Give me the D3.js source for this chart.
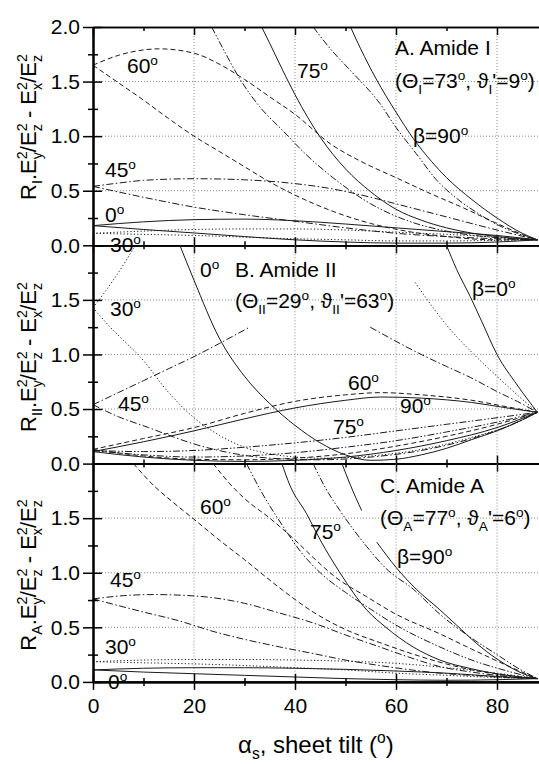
<html>
<body style="margin:0;background:#fff">
<svg id="mainSvg" width="539" height="764"></svg>
<script src="https://d3js.org/d3.v7.min.js"></script>
<script>
// ---- data: [alpha (deg), value] ----
// panel A, Amide I
const A_b0_hi = [[0,0.18],[10,0.215],[20,0.235],[30,0.24],[40,0.225],[50,0.195],[60,0.16],[70,0.125],[80,0.09],[88,0.05]]
const A_b0_lo = [[0,0.18],[10,0.145],[20,0.113],[30,0.08],[40,0.05],[50,0.03],[60,0.02],[70,0.02],[80,0.03],[88,0.05]]
const A_b30_hi = [[0,0.11],[10,0.13],[20,0.145],[30,0.15],[40,0.15],[50,0.14],[60,0.12],[70,0.1],[80,0.075],[88,0.05]]
const A_b30_lo = [[0,0.11],[10,0.1],[20,0.09],[30,0.075],[40,0.06],[50,0.05],[60,0.04],[70,0.04],[80,0.045],[88,0.05]]
const A_b45_hi = [[0,0.54],[5,0.57],[10,0.595],[20,0.61],[30,0.6],[40,0.565],[47,0.52],[55,0.44],[60,0.38],[70,0.26],[80,0.14],[88,0.05]]
const A_b45_lo = [[0,0.54],[10,0.44],[20,0.35],[30,0.28],[40,0.22],[50,0.16],[60,0.11],[70,0.08],[80,0.06],[88,0.05]]
const A_b60_hi = [[0,1.65],[5,1.74],[10,1.79],[13,1.8],[20,1.76],[25,1.66],[30,1.52],[35,1.36],[40,1.2],[47,0.93],[53,0.77],[60,0.62],[67,0.47],[73,0.35],[80,0.2],[85,0.1],[88,0.05]]
const A_b60_lo = [[0,1.65],[5,1.49],[10,1.33],[15,1.16],[20,1.0],[25,0.86],[30,0.72],[35,0.58],[40,0.46],[47,0.32],[55,0.2],[62,0.13],[70,0.08],[80,0.05],[88,0.05]]
const A_b75_1 = [[23.5,2.0],[26,1.78],[29,1.53],[33,1.27],[37.6,1.05],[42,0.84],[47.5,0.62],[55,0.38],[62,0.23],[70,0.13],[80,0.07],[88,0.05]]
const A_b75_2 = [[43.6,2.0],[47,1.8],[51,1.6],[56.8,1.3],[60,1.08],[64,0.84],[68,0.6],[72,0.43],[76,0.3],[80,0.19],[84,0.11],[88,0.05]]
const A_b90_1 = [[33.4,2.0],[35,1.85],[37.6,1.6],[40,1.38],[45,0.99],[50,0.7],[55,0.49],[60,0.33],[65,0.23],[70,0.16],[80,0.08],[88,0.05]]
const A_b90_2 = [[51,2.0],[53,1.8],[56,1.53],[60,1.22],[63.4,0.98],[67,0.77],[70,0.62],[75,0.42],[80,0.25],[85,0.11],[88,0.05]]
// panel B, Amide II
const B_b0_1 = [[17.2,2.0],[20,1.68],[25,1.15],[30,0.8],[35,0.55],[40,0.35],[45,0.19],[50,0.08],[55,0.03],[60,0.04],[65,0.08],[70,0.14],[75,0.22],[80,0.3],[85,0.4],[88,0.47]]
const B_b0_2 = [[70,2.0],[72,1.78],[74.7,1.53],[77,1.3],[80,1.0],[84,0.72],[88,0.47]]
const B_b30_1 = [[0,1.43],[2,1.55],[4,1.68],[6,1.82],[8,1.97],[8.4,2.0]]
const B_b30_2 = [[63.8,1.66],[67,1.45],[70,1.27],[75,1.02],[80,0.8],[84,0.63],[88,0.47]]
const B_b30_lo = [[0,1.43],[3,1.27],[6,1.13],[9.3,0.98],[15,0.65],[20,0.42],[25,0.26],[30,0.15],[35,0.09],[45,0.05],[55,0.07],[65,0.13],[75,0.24],[82,0.34],[88,0.47]]
const B_b45_1 = [[0,0.54],[5,0.65],[10,0.76],[15,0.87],[20,0.98],[25,1.1],[31,1.25]]
const B_b45_2 = [[54.9,1.25],[60,1.12],[65,1.0],[70,0.89],[74.7,0.79],[80,0.66],[84,0.57],[88,0.47]]
const B_b45_lo = [[0,0.54],[5,0.43],[11,0.33],[15,0.26],[20,0.18],[27,0.1],[35,0.05],[45,0.035],[55,0.06],[65,0.12],[75,0.23],[82,0.34],[88,0.47]]
const B_b60_hi = [[0,0.13],[10,0.23],[20,0.33],[30,0.46],[40,0.57],[50,0.63],[57,0.65],[65,0.63],[75,0.58],[82,0.52],[88,0.47]]
const B_b60_lo = [[0,0.13],[10,0.07],[20,0.04],[30,0.035],[40,0.05],[50,0.09],[60,0.16],[70,0.25],[80,0.36],[88,0.47]]
const B_b75_hi = [[0,0.12],[10,0.11],[20,0.12],[30,0.15],[40,0.19],[50,0.24],[60,0.3],[70,0.36],[80,0.42],[88,0.47]]
const B_b75_lo = [[0,0.12],[10,0.08],[20,0.06],[30,0.07],[40,0.1],[50,0.15],[60,0.21],[70,0.29],[80,0.38],[88,0.47]]
const B_b90_hi = [[0,0.11],[10,0.2],[20,0.3],[30,0.41],[40,0.51],[50,0.58],[57,0.61],[65,0.6],[75,0.56],[82,0.51],[88,0.47]]
const B_b90_lo = [[0,0.11],[10,0.06],[20,0.03],[30,0.02],[40,0.03],[50,0.06],[60,0.12],[70,0.21],[80,0.33],[88,0.47]]
// panel C, Amide A
const C_b0_hi = [[0,0.11],[10,0.125],[20,0.13],[30,0.13],[40,0.125],[50,0.115],[60,0.1],[70,0.08],[80,0.05],[88,0.03]]
const C_b0_lo = [[0,0.11],[10,0.09],[20,0.075],[30,0.06],[40,0.045],[50,0.03],[60,0.02],[70,0.015],[80,0.02],[88,0.03]]
const C_b30_hi = [[0,0.185],[10,0.2],[20,0.205],[30,0.205],[40,0.2],[50,0.19],[60,0.17],[70,0.13],[80,0.08],[88,0.03]]
const C_b30_lo = [[0,0.185],[10,0.175],[20,0.165],[30,0.15],[40,0.13],[50,0.11],[60,0.08],[70,0.06],[80,0.04],[88,0.03]]
const C_b45_hi = [[0,0.76],[6,0.79],[12,0.8],[17,0.795],[24,0.77],[30,0.72],[37,0.63],[43.6,0.54],[50,0.43],[56.8,0.32],[63,0.22],[68.7,0.14],[75,0.09],[82,0.05],[88,0.03]]
const C_b45_lo = [[0,0.76],[10,0.64],[17,0.56],[24,0.46],[30,0.39],[37,0.32],[43.6,0.26],[50,0.2],[56.8,0.15],[63,0.11],[68.7,0.08],[75,0.06],[82,0.04],[88,0.03]]
const C_b60_1 = [[8,2.0],[12,1.8],[16,1.64],[20,1.49],[25,1.3],[30,1.12],[37,0.86],[43.6,0.64],[50,0.48],[56.8,0.36],[63,0.26],[68.7,0.18],[75,0.11],[82,0.06],[88,0.03]]
const C_b60_2 = [[23.8,2.0],[27,1.82],[30,1.68],[35,1.5],[40,1.3],[43.6,1.14],[48,0.96],[54.2,0.78],[60,0.62],[68.7,0.44],[75,0.3],[82,0.15],[88,0.03]]
const C_b75_1 = [[30.4,2.0],[33,1.77],[37.7,1.42],[41,1.2],[45,1.0],[50,0.82],[54.2,0.69],[60,0.52],[68.7,0.32],[75,0.2],[82,0.1],[88,0.03]]
const C_b75_2 = [[43.6,2.0],[46,1.78],[48.9,1.57],[54.2,1.24],[58,1.04],[63.4,0.85],[68.7,0.62],[75,0.4],[80,0.25],[84,0.13],[88,0.03]]
const C_b90_1 = [[37.4,2.0],[39,1.8],[42.3,1.54],[45,1.3],[48.9,1.0],[54.2,0.66],[58,0.5],[63.4,0.32],[68.7,0.2],[75,0.12],[82,0.06],[88,0.03]]
const C_b90_2a = [[49.3,2.0],[51,1.8],[53.2,1.57]]
const C_b90_2b = [[56.2,1.28],[60,1.05],[64,0.85],[68.7,0.66],[72,0.52],[76,0.35],[80,0.21],[84,0.1],[88,0.03]]

const xMajor = [0, 20, 40, 60, 80], xMinor = [10, 30, 50, 70]
const yMajor = [0, 0.5, 1, 1.5, 2], yMinor = [0.25, 0.75, 1.25, 1.75]
const yLabelled = [[0, 0.5, 1, 1.5, 2], [0, 0.5, 1, 1.5], [0, 0.5, 1, 1.5]]

// curves per panel: [points, beta]
const panelCurves = [
  [[A_b0_hi,0],[A_b0_lo,0],[A_b30_hi,30],[A_b30_lo,30],[A_b45_hi,45],[A_b45_lo,45],[A_b60_hi,60],[A_b60_lo,60],[A_b75_1,75],[A_b75_2,75],[A_b90_1,90],[A_b90_2,90]],
  [[B_b0_1,0],[B_b0_2,0],[B_b30_1,30],[B_b30_2,30],[B_b30_lo,30],[B_b45_1,45],[B_b45_2,45],[B_b45_lo,45],[B_b60_hi,60],[B_b60_lo,60],[B_b75_hi,75],[B_b75_lo,75],[B_b90_hi,90],[B_b90_lo,90]],
  [[C_b0_hi,0],[C_b0_lo,0],[C_b30_hi,30],[C_b30_lo,30],[C_b45_hi,45],[C_b45_lo,45],[C_b60_1,60],[C_b60_2,60],[C_b75_1,75],[C_b75_2,75],[C_b90_1,90],[C_b90_2a,90],[C_b90_2b,90]]
]
const dashFor = {0: null, 30: '1.2,2.2', 45: '7,2.5,1.5,2.5', 60: '5,3', 75: '7,2,1.5,2,1.5,2', 90: null}

const svg = d3.select('#mainSvg')
const font = "'Liberation Sans', Arial, Helvetica, sans-serif"
const x0 = 93, panelH = 218.3
const tops = [27, 27 + panelH, 27 + 2 * panelH]
const xScale = d3.scaleLinear().domain([0, 90]).range([x0, 547.5])

// text with sub/superscripts: parts = [text, kind, dx]
function rich(sel, parts, size) {
  let cur = 0
  parts.forEach(([s, k, dx]) => {
    const off = k === 'sup' ? -0.4 * size : k === 'sub' ? 0.27 * size : 0
    const t = sel.append('tspan').text(s).attr('dy', off - cur)
      .attr('font-size', k ? size * 0.65 : size)
    if (dx) t.attr('dx', dx)
    cur = off
  })
}
function label(x, y, parts, size) {
  const t = svg.append('text').attr('x', x).attr('y', y)
    .attr('font-family', font).attr('fill', '#000')
  rich(t, parts, size || 21)
  return t
}
const deg = (s) => [[s, ''], ['o', 'sup']]

tops.forEach((top, i) => {
  const bottom = top + panelH
  const yScale = d3.scaleLinear().domain([0, 2]).range([bottom, top])

  // grid
  const grid = svg.append('g').attr('stroke', '#8a8a8a').attr('stroke-width', 1).attr('stroke-dasharray', '1,2')
  grid.selectAll('.gx').data(xMajor.slice(1)).join('line')
    .attr('x1', d => xScale(d)).attr('x2', d => xScale(d)).attr('y1', top).attr('y2', bottom)
  grid.selectAll('.gy').data([0.5, 1, 1.5]).join('line')
    .attr('x1', x0).attr('x2', 539).attr('y1', d => yScale(d)).attr('y2', d => yScale(d))

  // curves
  svg.append('clipPath').attr('id', 'clip' + i).append('rect')
    .attr('x', x0).attr('y', top).attr('width', 460).attr('height', panelH)
  const line = d3.line().x(d => xScale(d[0])).y(d => yScale(d[1])).curve(d3.curveMonotoneX)
  svg.append('g').attr('clip-path', `url(#clip${i})`)
    .selectAll('path').data(panelCurves[i]).join('path')
    .attr('d', d => line(d[0]))
    .attr('fill', 'none').attr('stroke', '#1a1a1a').attr('stroke-width', 1)
    .attr('stroke-dasharray', d => dashFor[d[1]])

  // y axis, ticks crossing the spine
  const yl = svg.append('g').attr('transform', `translate(${x0},0)`)
    .call(d3.axisLeft(yScale).tickValues(yLabelled[i]).tickSize(10).tickSizeOuter(0).tickPadding(3).tickFormat(d3.format('.1f')))
  yl.selectAll('text').attr('font-size', 21).attr('font-family', font).attr('fill', '#000')
  svg.append('g').attr('transform', `translate(${x0},0)`)
    .call(d3.axisRight(yScale).tickValues(yMajor).tickSize(9).tickSizeOuter(0).tickFormat(''))
  svg.append('g').attr('transform', `translate(${x0},0)`)
    .call(d3.axisLeft(yScale).tickValues(yMinor).tickSize(5).tickSizeOuter(0).tickFormat(''))
  svg.append('g').attr('transform', `translate(${x0},0)`)
    .call(d3.axisRight(yScale).tickValues(yMinor).tickSize(5).tickSizeOuter(0).tickFormat(''))

  // x axis at bottom of each panel
  const xb = svg.append('g').attr('transform', `translate(0,${bottom})`)
    .call(d3.axisBottom(xScale).tickValues(xMajor).tickSize(8).tickSizeOuter(0).tickPadding(8).tickFormat(i === 2 ? d3.format('d') : ''))
  xb.selectAll('text').attr('font-size', 21).attr('font-family', font).attr('fill', '#000')
  svg.append('g').attr('transform', `translate(0,${bottom})`)
    .call(d3.axisTop(xScale).tickValues(xMajor).tickSize(8).tickSizeOuter(0).tickFormat(''))
  svg.append('g').attr('transform', `translate(0,${bottom})`)
    .call(d3.axisBottom(xScale).tickValues(xMinor).tickSize(4).tickSizeOuter(0).tickFormat(''))
  svg.append('g').attr('transform', `translate(0,${bottom})`)
    .call(d3.axisTop(xScale).tickValues(xMinor).tickSize(4).tickSizeOuter(0).tickFormat(''))
  if (i === 0) {
    svg.append('g').attr('transform', `translate(0,${top})`)
      .call(d3.axisBottom(xScale).tickValues(xMajor).tickSize(8).tickSizeOuter(0).tickFormat(''))
    svg.append('g').attr('transform', `translate(0,${top})`)
      .call(d3.axisBottom(xScale).tickValues(xMinor).tickSize(4).tickSizeOuter(0).tickFormat(''))
  }
})
svg.selectAll('.domain').attr('stroke', '#000').attr('stroke-width', 1.6)
svg.selectAll('.tick line').attr('stroke', '#000').attr('stroke-width', 1.5)

// y titles
const ySub = -0.65 * 22 * 0.556
const yTitle = (sub) => [['R', ''], [sub, 'sub'], ['.E', ''], ['2', 'sup'], ['y', 'sub', ySub], ['/E', ''], ['2', 'sup'], ['z', 'sub', ySub],
  [' - E', ''], ['2', 'sup'], ['x', 'sub', ySub], ['/E', ''], ['2', 'sup'], ['z', 'sub', ySub]]
;[['I', 127], ['II', 357], ['A', 575]].forEach(([s, cy]) => {
  label(0, 0, yTitle(s), 22).attr('text-anchor', 'middle')
    .attr('transform', `translate(36,${cy}) rotate(-90)`)
})

// x title
label(238, 753, [['\u03b1', ''], ['s', 'sub'], [', sheet tilt (', ''], ['o', 'sup'], [')', '']], 24)

// panel A notes
label(395, 55, [['A. Amide I', '']])
label(395, 88, [['(\u0398', ''], ['I', 'sub'], ['=73', ''], ['o', 'sup'], [', \u03d1', ''], ['I', 'sub'], ["'=9", ''], ['o', 'sup'], [')', '']])
label(413, 143, [['\u03b2=90', ''], ['o', 'sup']])
label(127, 73, deg('60'))
label(297, 78, deg('75'))
label(105, 177, deg('45'))
label(105, 222, deg('0'))
label(110, 252, deg('30'))
// panel B notes
label(235, 277, [['B. Amide II', '']])
label(235, 308, [['(\u0398', ''], ['II', 'sub'], ['=29', ''], ['o', 'sup'], [', \u03d1', ''], ['II', 'sub'], ["'=63", ''], ['o', 'sup'], [')', '']])
label(200, 277, deg('0'))
label(110, 316, deg('30'))
label(472, 296, [['\u03b2=0', ''], ['o', 'sup']])
label(118, 411, deg('45'))
label(348, 390, deg('60'))
label(400, 413, deg('90'))
label(333, 434, deg('75'))
// panel C notes
label(380, 493, [['C. Amide A', '']])
label(380, 525, [['(\u0398', ''], ['A', 'sub'], ['=77', ''], ['o', 'sup'], [', \u03d1', ''], ['A', 'sub'], ["'=6", ''], ['o', 'sup'], [')', '']])
label(397, 564, [['\u03b2=90', ''], ['o', 'sup']])
label(200, 514, deg('60'))
label(310, 539, deg('75'))
label(110, 587, deg('45'))
label(105, 654, deg('30'))
label(108, 689, deg('0'))
</script>
</body>
</html>
